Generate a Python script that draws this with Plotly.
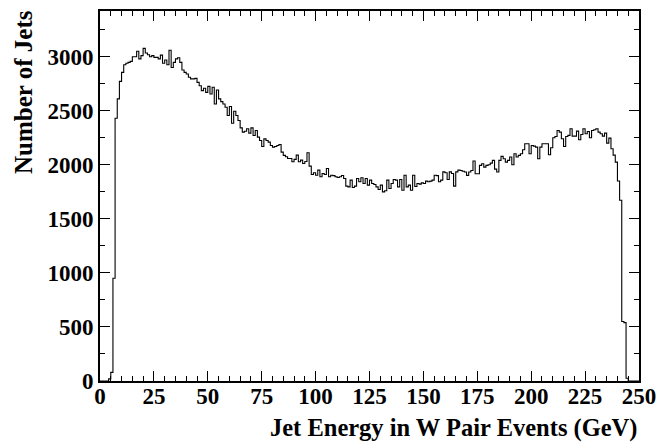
import plotly.graph_objects as go

# Jet energy histogram, 1 GeV bins from 0 to 250 GeV
bin_width = 1.0
x_min = 0.0

counts = [
    0, 0, 0, 0, 20, 80, 950, 2431, 2610, 2772,
    2855, 2926, 2940, 2948, 2957, 3000, 3000, 3050, 2980, 3010,
    3077, 3034, 3018, 3000, 3010, 2994, 2994, 2980, 3015, 2940,
    2970, 2926, 3060, 2900, 2948, 2980, 2990, 2948, 2877, 2855,
    2840, 2810, 2795, 2795, 2800, 2763, 2732, 2686, 2708, 2670,
    2726, 2655, 2717, 2563, 2692, 2610, 2585, 2563, 2533, 2456,
    2540, 2385, 2496, 2456, 2410, 2342, 2302, 2311, 2333, 2293,
    2342, 2271, 2317, 2256, 2225, 2170, 2240, 2225, 2210, 2179,
    2164, 2170, 2179, 2188, 2117, 2087, 2074, 2059, 2059, 2028,
    2050, 2090, 2028, 2043, 2012, 2030, 2111, 1988, 1910, 1926,
    1904, 1951, 1889, 1920, 1910, 1966, 1889, 1904, 1900, 1889,
    1883, 1889, 1901, 1874, 1803, 1796, 1858, 1790, 1803, 1874,
    1843, 1880, 1827, 1874, 1812, 1858, 1827, 1818, 1796, 1772,
    1812, 1750, 1760, 1858, 1781, 1827, 1864, 1858, 1796, 1864,
    1765, 1904, 1796, 1812, 1765, 1904, 1800, 1827, 1821, 1833,
    1827, 1849, 1843, 1849, 1858, 1904, 1900, 1843, 1858, 1935,
    1926, 1864, 1935, 1920, 1803, 1935, 1951, 1948, 1940, 1933,
    1902, 1933, 1948, 2035, 1918, 1918, 1995, 2010, 1979, 1995,
    2001, 2016, 2041, 1960, 1933, 2041, 2078, 2056, 2025, 2041,
    2072, 2001, 2102, 2072, 2087, 2102, 2139, 2195, 2195, 2102,
    2179, 2173, 2164, 2056, 2164, 2195, 2195, 2195, 2093, 2158,
    2250, 2262, 2318, 2302, 2241, 2170, 2262, 2272, 2333, 2265,
    2265, 2312, 2232, 2281, 2333, 2287, 2308, 2250, 2318, 2324,
    2333, 2302, 2287, 2265, 2293, 2201, 2247, 2148, 2090, 2025,
    1850, 1672, 550, 540, 25, 0, 0, 0, 0, 0,
]

x_tick_vals = [0, 25, 50, 75, 100, 125, 150, 175, 200, 225, 250]
y_tick_vals = [0, 500, 1000, 1500, 2000, 2500, 3000]

edges = [x_min + i * bin_width for i in range(len(counts) + 1)]
ys = counts + [counts[-1]]

font_family = "Liberation Serif, Times New Roman, serif"

fig = go.Figure()
fig.add_trace(go.Scatter(
    x=edges, y=ys, mode="lines",
    line=dict(shape="hv", color="black", width=1.1),
    showlegend=False, hoverinfo="skip",
))

axis_common = dict(
    showline=True, linecolor="black", linewidth=1.6, mirror="ticks",
    ticks="inside", ticklen=10, tickwidth=1.2, tickcolor="black",
    showgrid=False, zeroline=False, automargin=False,
    tickfont=dict(family=font_family, size=23, color="black", weight="bold"),
)

fig.update_xaxes(
    range=[0, 250], tickvals=x_tick_vals,
    ticktext=[str(v) for v in x_tick_vals],
    ticklabelstandoff=-6,
    minor=dict(dtick=5, ticklen=5, tickwidth=1.2, tickcolor="black", ticks="inside"),
    **axis_common,
)
fig.update_yaxes(
    range=[0, 3423], tickvals=y_tick_vals,
    ticktext=[str(v) for v in y_tick_vals],
    minor=dict(dtick=250, ticklen=5, tickwidth=1.2, tickcolor="black", ticks="inside"),
    **axis_common,
)

fig.add_annotation(
    text="Jet Energy in W Pair Events (GeV)", xref="paper", yref="paper",
    x=1.0, y=-0.128, xanchor="right", yanchor="middle", showarrow=False,
    font=dict(family=font_family, size=24.5, color="black", weight="bold"),
)
fig.add_annotation(
    text="Number of Jets", xref="paper", yref="paper",
    x=-0.143, y=1.008, xanchor="center", yanchor="top", textangle=-90, showarrow=False,
    font=dict(family=font_family, size=25, color="black", weight="bold"),
)

fig.update_layout(
    width=661, height=442,
    margin=dict(l=100, r=22, t=11, b=61),
    paper_bgcolor="white", plot_bgcolor="white",
)

fig.write_html(
    "out.html",
    config={"displayModeBar": False},
    post_script="document.body.style.margin='0';document.body.style.overflow='hidden';",
)
